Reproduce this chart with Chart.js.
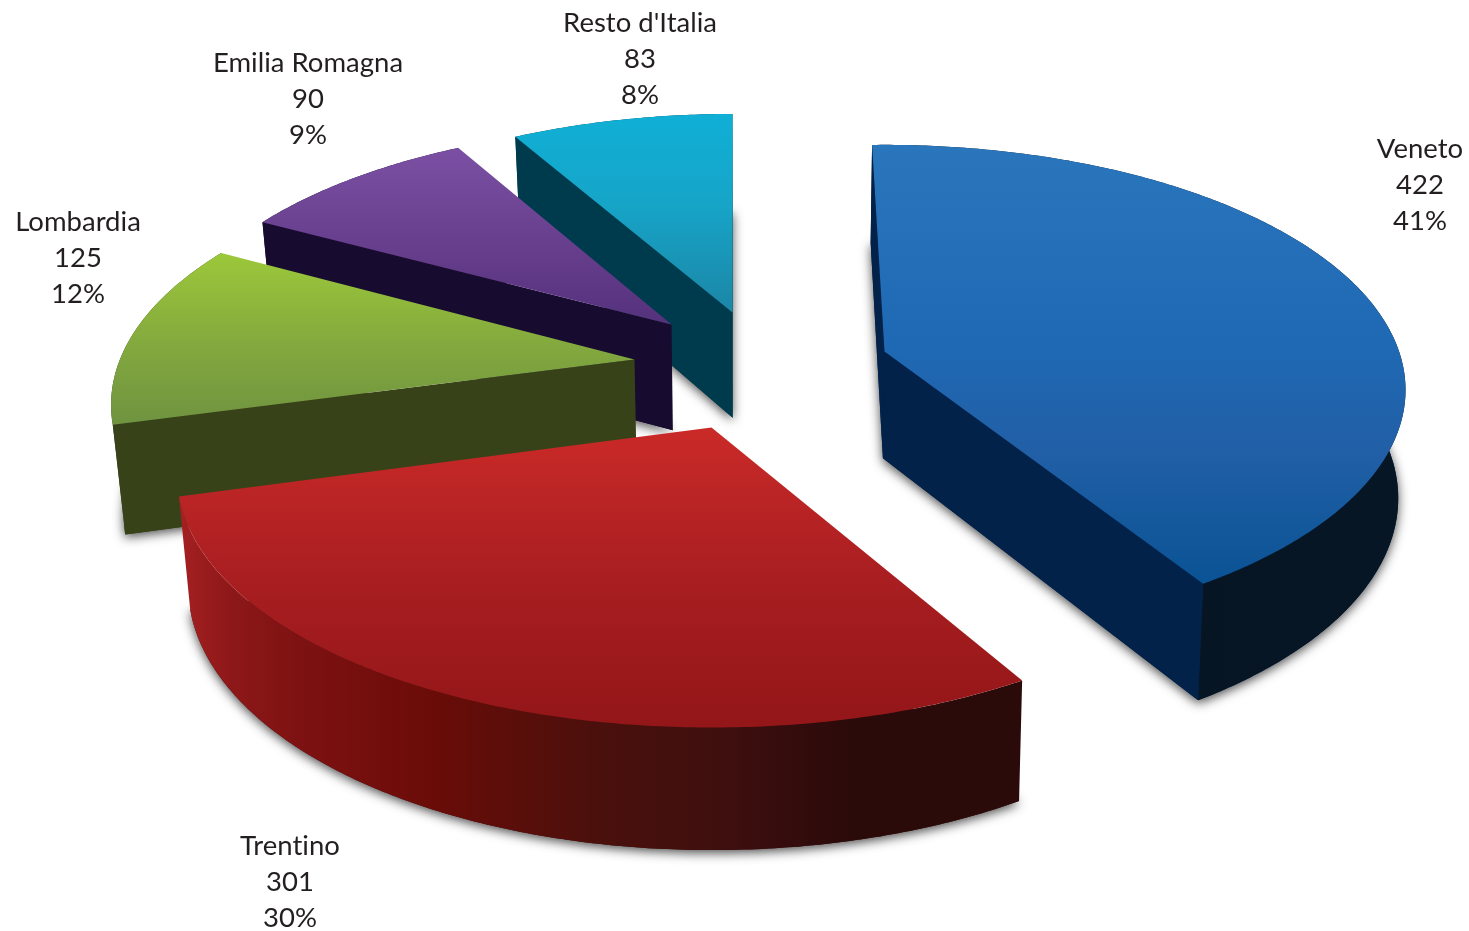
<!DOCTYPE html>
<html>
<head>
<meta charset="utf-8">
<title>Pie</title>
<script src="https://cdn.jsdelivr.net/npm/chart.js@4"></script>
<style>
  html, body { margin: 0; padding: 0; background: #fff; }
  #wrap { width: 1469px; height: 931px; }
</style>
</head>
<body>
<div id="wrap"><canvas id="pie" width="1469" height="931"></canvas></div>
<script>
// Data
const categories = ['Veneto', 'Trentino', 'Lombardia', 'Emilia Romagna', "Resto d'Italia"];
const values = [422, 301, 125, 90, 83];
const percentLabels = ['41%', '30%', '12%', '9%', '8%'];

// Look of each slice, same order as categories
const baseColors = ['#1f69b4', '#a91e21', '#80a53e', '#643a8c', '#149bbd'];
const topStops = [
  [[0, '#2a76bc'], [0.45, '#1f69b4'], [0.7, '#215fa6'], [1, '#0a5394']],
  [[0, '#ca2a28'], [0.5, '#a91e21'], [1, '#931618']],
  [[0, '#9cc83a'], [0.55, '#82a83e'], [1, '#6f9340']],
  [[0, '#7b50a4'], [0.5, '#69408f'], [1, '#55317c']],
  [[0, '#10afd6'], [0.45, '#16a5c8'], [1, '#1c86a6']]
];
const cutWallColors = ['#03224a', '#3a0d0d', '#384219', '#170b2f', '#003a4d'];
const rimWallStops = [
  [[0, '#061420'], [1, '#071625']],
  [[0, '#a52021'], [0.06, '#8e1819'], [0.14, '#7e1212'], [0.3, '#6a0c08'], [0.5, '#4a100c'], [0.65, '#3e0f0e'], [0.8, '#2b0a0a'], [1, '#2b0a0a']],
  [[0, '#384219'], [1, '#384219']],
  [[0, '#170b2f'], [1, '#170b2f']],
  [[0, '#003a4d'], [1, '#003a4d']]
];
// Screen offset of each exploded slice from the pie centre, its size,
// how strong its perspective is and a small trim in degrees on its cut edges
const sliceShift = [[150, -114], [-23, -38], [-100, -106], [-63, -141], [-2, -153]];
const sliceScale = [0.98, 1, 0.98, 0.96, 0.96];
const slicePerspective = [0.16, 0.187, 0.187, 0.187, 0.187];
const sliceTrim = [[-1.6, -1.3], [1.5, -0.5], [0, 0], [-0.7, 0], [-0.6, 0]];
// Painter's order, back slices first
const drawOrder = [4, 3, 2, 0, 1];
// Label block centres
const labelPos = [[1420, 149], [290, 846], [78, 222], [308, 63], [640, 23]];

// Fake camera
const STRETCH_X = 1.128;
const STRETCH_Y = 0.524;

function project(arc, i, angle) {
  const r = sliceScale[i];
  const u = r * Math.cos(angle);
  const v = r * Math.sin(angle);
  const w = 1 - slicePerspective[i] * v;
  return {
    x: arc.x + sliceShift[i][0] + arc.outerRadius * STRETCH_X * u / w,
    y: arc.y + sliceShift[i][1] + arc.outerRadius * STRETCH_Y * v / w
  };
}

function apexOf(arc, i) {
  return { x: arc.x + sliceShift[i][0], y: arc.y + sliceShift[i][1] };
}

// Foot of the wall under a point of the top face
function dropPoint(p) {
  const lean = p.x < 740 ? 0.02 : 0.011;
  return { x: p.x + (740 - p.x) * lean, y: p.y + 92 + 0.042 * p.y };
}

function tracePath(ctx, pts) {
  ctx.beginPath();
  pts.forEach((p, n) => (n ? ctx.lineTo(p.x, p.y) : ctx.moveTo(p.x, p.y)));
  ctx.closePath();
}

function makeGradient(ctx, x0, y0, x1, y1, stops) {
  const g = ctx.createLinearGradient(x0, y0, x1, y1);
  stops.forEach(s => g.addColorStop(s[0], s[1]));
  return g;
}

// A cut face shows only when the drop goes away from the inside of the slice
function cutFaceVisible(apex, p, foot, mid) {
  const ex = p.x - apex.x;
  const ey = p.y - apex.y;
  const dropSide = ex * (foot.y - p.y) - ey * (foot.x - p.x);
  const insideSide = ex * (mid.y - apex.y) - ey * (mid.x - apex.x);
  return dropSide * insideSide < 0;
}

function drawSlice(ctx, arc, i) {
  const from = arc.startAngle + sliceTrim[i][0] * Math.PI / 180;
  const to = arc.endAngle + sliceTrim[i][1] * Math.PI / 180;
  const steps = Math.ceil((to - from) / 0.01);
  const rim = [];
  for (let k = 0; k <= steps; k++) {
    rim.push(project(arc, i, from + (to - from) * k / steps));
  }
  const apex = apexOf(arc, i);
  const rimFoot = rim.map(dropPoint);
  const apexFoot = dropPoint(apex);
  const mid = rim[Math.round(steps / 2)];
  const xs = rim.map(p => p.x).concat(apex.x);
  const ys = rim.map(p => p.y).concat(apex.y);

  // soft shadow under the foot of the slice
  ctx.save();
  ctx.shadowColor = 'rgba(0,0,0,0.7)';
  ctx.shadowBlur = 11;
  ctx.shadowOffsetY = 3;
  ctx.fillStyle = cutWallColors[i];
  tracePath(ctx, [apexFoot].concat(rimFoot));
  ctx.fill();
  ctx.restore();

  // curved outer wall
  ctx.fillStyle = makeGradient(ctx, Math.min(...xs), 0, Math.max(...xs), 0, rimWallStops[i]);
  tracePath(ctx, rim.concat(rimFoot.slice().reverse()));
  ctx.fill();

  // the cut faces that look at us
  ctx.fillStyle = cutWallColors[i];
  [0, steps].forEach(k => {
    if (cutFaceVisible(apex, rim[k], rimFoot[k], mid)) {
      tracePath(ctx, [apex, rim[k], rimFoot[k], apexFoot]);
      ctx.fill();
    }
  });

  // top face
  ctx.fillStyle = makeGradient(ctx, 0, Math.min(...ys), 0, Math.max(...ys), topStops[i]);
  tracePath(ctx, [apex].concat(rim));
  ctx.fill();
}

const pie3d = {
  id: 'pie3d',
  beforeDatasetDraw(chart, args) {
    const ctx = chart.ctx;
    const arcs = args.meta.data.map(el => el.getProps(['x', 'y', 'startAngle', 'endAngle', 'outerRadius'], true));
    drawOrder.forEach(i => drawSlice(ctx, arcs[i], i));
    return false;
  },
  afterDraw(chart) {
    const ctx = chart.ctx;
    ctx.save();
    ctx.fillStyle = '#231f20';
    ctx.font = '27.5px Lato';
    ctx.letterSpacing = '0.01px'; // keeps the "ti" in Trentino apart
    ctx.textAlign = 'center';
    ctx.textBaseline = 'middle';
    categories.forEach((name, i) => {
      const [x, y] = labelPos[i];
      ctx.fillText(name, x, y);
      ctx.fillText(String(values[i]), x, y + 36);
      ctx.fillText(percentLabels[i], x, y + 72);
    });
    ctx.restore();
  }
};

new Chart(document.getElementById('pie'), {
  type: 'pie',
  data: {
    labels: categories,
    datasets: [{ data: values, backgroundColor: baseColors, borderWidth: 0 }]
  },
  options: {
    responsive: false,
    animation: false,
    devicePixelRatio: 1,
    plugins: { legend: { display: false }, tooltip: { enabled: false } }
  },
  plugins: [pie3d]
});
</script>
</body>
</html>
